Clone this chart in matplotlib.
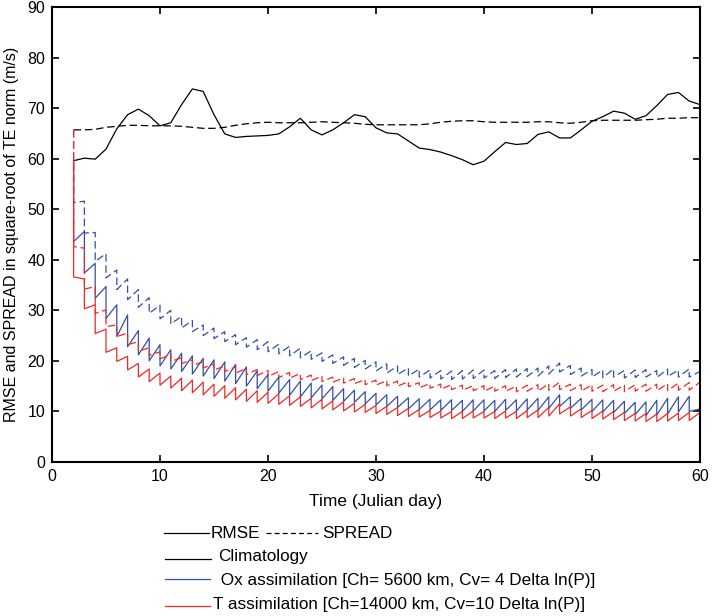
import matplotlib
matplotlib.use("Agg")
import matplotlib.pyplot as plt
from matplotlib.lines import Line2D

plt.rcParams['font.family'] = ['Liberation Sans', 'DejaVu Sans']

# analysis days (start of each forecast cycle) and forecast end days
analysis_days = list(range(2, 60))
forecast_days = list(range(3, 61))
clim_days = list(range(2, 61))

# climatology (free run) RMSE and SPREAD, one value per day
clim_rmse = [59.6, 60.1, 59.9, 61.9, 65.9, 68.7, 69.8, 68.5, 66.5,
             67.1, 70.7, 73.8, 73.3, 68.7, 64.9, 64.2, 64.4, 64.5, 64.6,
             64.9, 66.3, 68.0, 65.7, 64.7, 65.7, 67.1, 68.7, 68.3, 66.1,
             65.1, 64.9, 63.5, 62.1, 61.8, 61.3, 60.6, 59.8, 58.8, 59.5,
             61.4, 63.2, 62.8, 63.0, 64.8, 65.3, 64.1, 64.1, 65.7, 67.4,
             68.3, 69.4, 69.0, 67.8, 68.5, 70.5, 72.7, 73.1, 71.4, 70.7]
clim_spread = [65.7, 65.7, 65.8, 66.2, 66.4, 66.6, 66.6, 66.5, 66.5,
               66.5, 66.4, 66.2, 66.0, 66.0, 66.2, 66.6, 66.9, 67.1, 67.2,
               67.1, 67.1, 67.1, 67.2, 67.3, 67.2, 67.1, 67.0, 66.8, 66.7,
               66.7, 66.7, 66.7, 66.7, 66.9, 67.2, 67.4, 67.5, 67.5, 67.3,
               67.2, 67.2, 67.2, 67.2, 67.3, 67.3, 67.1, 67.0, 67.2, 67.5,
               67.6, 67.6, 67.6, 67.6, 67.7, 67.8, 68.0, 68.0, 68.1, 68.1]

# Ox assimilation: values right after analysis (days 2..59) and at end of forecast (days 3..60)
ox_rmse_ana = [43.6, 37.4, 32.4, 28.4, 24.8, 22.8, 21.2, 20.0, 19.0,
               18.4, 17.9, 17.4, 17.0, 16.5, 16.0, 15.5, 15.0, 14.5, 14.0,
               13.6, 13.2, 12.9, 12.7, 12.5, 12.2, 12.0, 11.8, 11.5, 11.3,
               11.0, 10.8, 10.5, 10.4, 10.3, 10.2, 10.2, 10.0, 10.1, 10.1,
               10.0, 10.2, 10.1, 10.3, 10.2, 10.6, 11.0, 10.6, 10.3, 10.0,
               9.9, 9.8, 9.6, 9.4, 9.2, 9.3, 9.5, 9.9, 10.0]
ox_rmse_fc = [45.6, 39.3, 34.7, 31.1, 29.1, 26.0, 24.5, 23.2,
              22.2, 21.5, 21.0, 20.5, 20.2, 19.8, 19.3, 18.8, 18.0, 17.3,
              16.8, 16.3, 16.0, 15.6, 15.2, 14.9, 14.5, 14.2, 13.9, 13.6,
              13.3, 13.0, 12.7, 12.5, 12.4, 12.3, 12.3, 12.2, 12.3, 12.3,
              12.2, 12.4, 12.3, 12.5, 12.6, 12.9, 13.3, 12.9, 12.6, 12.4,
              12.3, 12.2, 12.0, 11.8, 11.9, 12.2, 12.6, 12.9, 13.0, 10.5]
ox_spread_ana = [51.3, 45.3, 39.7, 36.4, 34.1, 32.1, 30.6, 29.4, 28.3,
                 27.3, 26.5, 25.8, 25.0, 24.4, 23.8, 23.2, 22.7, 22.2, 21.8,
                 21.4, 21.0, 20.6, 20.3, 19.9, 19.5, 19.1, 18.7, 18.4, 18.0,
                 17.6, 17.3, 17.0, 16.8, 16.6, 16.4, 16.3, 16.4, 16.5, 16.6,
                 16.5, 16.7, 16.8, 16.9, 17.0, 17.4, 17.8, 17.3, 17.0, 16.8,
                 16.7, 16.8, 16.6, 16.7, 16.8, 16.7, 16.9, 16.8, 16.8]
ox_spread_fc = [51.6, 45.4, 41.2, 38.0, 36.2, 34.1, 32.5, 31.0,
                30.0, 28.8, 28.0, 27.1, 26.5, 25.8, 25.2, 24.6, 24.2, 23.8,
                23.3, 22.9, 22.5, 22.0, 21.6, 21.2, 20.8, 20.5, 20.1, 19.8,
                19.4, 19.0, 18.6, 18.4, 18.2, 18.1, 18.0, 18.1, 18.2, 18.2,
                18.1, 18.3, 18.4, 18.5, 18.6, 19.0, 19.6, 19.1, 18.6, 18.3,
                18.2, 18.4, 18.1, 18.2, 18.3, 18.1, 18.4, 18.2, 18.4, 17.9]

# T assimilation
t_rmse_ana = [36.6, 30.3, 25.4, 21.7, 19.9, 18.2, 16.8, 15.9, 15.2,
              14.6, 14.1, 13.7, 13.3, 13.0, 12.6, 12.3, 12.0, 11.8, 11.6,
              11.4, 11.2, 11.0, 10.7, 10.5, 10.3, 10.1, 9.9, 9.8, 9.6,
              9.4, 9.2, 9.0, 8.9, 8.8, 8.7, 8.6, 8.6, 8.7, 8.7,
              8.6, 8.7, 8.6, 8.8, 8.8, 9.1, 9.5, 9.1, 8.8, 8.6,
              8.5, 8.4, 8.2, 8.1, 8.0, 8.0, 8.1, 8.2, 8.2]
t_rmse_fc = [36.2, 31.1, 26.3, 22.6, 20.9, 19.5, 18.4, 17.6,
             17.0, 16.6, 16.2, 15.8, 15.4, 15.1, 14.7, 14.4, 14.1, 13.8,
             13.5, 13.1, 12.9, 12.6, 12.4, 12.1, 11.9, 11.6, 11.4, 11.2,
             11.0, 10.8, 10.6, 10.4, 10.2, 10.1, 10.0, 10.0, 10.1, 10.0,
             10.0, 10.1, 10.0, 10.2, 10.3, 10.8, 11.5, 10.9, 10.5, 10.2,
             10.1, 10.0, 9.8, 9.6, 9.6, 9.5, 9.6, 9.7, 9.8, 9.8]
t_spread_ana = [42.6, 34.2, 29.4, 26.8, 24.8, 23.2, 21.9, 21.1, 20.4,
                19.9, 19.5, 19.1, 18.6, 18.2, 17.9, 17.6, 17.3, 17.1, 16.9,
                16.7, 16.6, 16.3, 16.1, 15.9, 15.8, 15.6, 15.5, 15.3, 15.2,
                15.1, 15.0, 14.9, 14.7, 14.6, 14.4, 14.3, 14.2, 14.1, 14.0,
                14.0, 14.0, 13.9, 14.0, 14.0, 14.2, 14.3, 14.1, 14.0, 14.0,
                13.9, 14.0, 13.9, 14.0, 14.0, 14.1, 14.1, 14.2, 14.2]
t_spread_fc = [42.3, 34.7, 30.1, 27.1, 25.5, 23.8, 22.6, 21.8,
               21.2, 20.6, 20.2, 19.8, 19.4, 19.0, 18.8, 18.5, 18.3, 18.1,
               17.9, 17.7, 17.5, 17.2, 17.0, 16.8, 16.6, 16.5, 16.3, 16.2,
               16.1, 16.0, 15.9, 15.7, 15.5, 15.4, 15.3, 15.2, 15.1, 15.1,
               15.0, 15.1, 15.0, 15.2, 15.3, 15.5, 15.8, 15.4, 15.3, 15.3,
               15.2, 15.3, 15.2, 15.3, 15.4, 15.4, 15.5, 15.6, 15.7, 15.8]

BLUE = '#3350a8'
RED = '#f02828'
LW = 0.9
DASH = (6, 3)


def sawtooth(start, ana, fc):
    # start value, then drop to analysis, grow to forecast, drop again ...
    xs = [analysis_days[0]]
    ys = [start]
    for i in range(len(ana)):
        xs += [analysis_days[i], forecast_days[i]]
        ys += [ana[i], fc[i]]
    return xs, ys


fig = plt.figure(figsize=(7.12, 6.16), dpi=100)
ax = fig.add_axes([52 / 712, 154 / 616, 648 / 712, 455 / 616])

ax.plot(clim_days, clim_rmse, color='black', lw=LW)
ax.plot(clim_days, clim_spread, color='black', lw=LW, dashes=DASH)

x, y = sawtooth(clim_rmse[0], ox_rmse_ana, ox_rmse_fc)
ax.plot(x, y, color=BLUE, lw=LW)
x, y = sawtooth(clim_spread[0], ox_spread_ana, ox_spread_fc)
ax.plot(x, y, color=BLUE, lw=LW, dashes=DASH)

x, y = sawtooth(clim_rmse[0], t_rmse_ana, t_rmse_fc)
ax.plot(x, y, color=RED, lw=LW)
x, y = sawtooth(clim_spread[0], t_spread_ana, t_spread_fc)
ax.plot(x, y, color=RED, lw=LW, dashes=DASH)

ax.set_xlim(0, 60)
ax.set_ylim(0, 90)
ax.set_xticks(range(0, 61, 10))
ax.set_yticks(range(0, 91, 10))
ax.tick_params(direction='in', top=True, right=True, length=5, width=1.2,
               labelsize=11.5, pad=5)
for sp in ax.spines.values():
    sp.set_linewidth(1.5)
ax.set_xlabel('Time (Julian day)', fontsize=12.5, labelpad=7)
ax.set_ylabel('RMSE and SPREAD in square-root of TE norm (m/s)', fontsize=11.5)
ax.yaxis.set_label_coords((19 - 52) / 648, 0.5)

# legend drawn by hand below the axes (figure pixel coords)
W, H = 712.0, 616.0


def fline(x0, x1, yp, **kw):
    fig.add_artist(Line2D([x0 / W, x1 / W], [1 - yp / H, 1 - yp / H],
                          transform=fig.transFigure, lw=LW, **kw))


def ftext(xp, yp, s):
    fig.text(xp / W, 1 - yp / H, s, fontsize=12.3, va='center', ha='left')


fline(164, 209, 533, color='black')
ftext(211, 533, 'RMSE')
fline(266, 318, 533, color='black', dashes=(4, 2.5))
ftext(322, 533, 'SPREAD')
fline(165, 211, 559, color='black')
ftext(218, 557, 'Climatology')
fline(165, 210, 579, color=BLUE)
ftext(216, 580, ' Ox assimilation [Ch= 5600 km, Cv= 4 Delta ln(P)]')
fline(165, 210, 606, color=RED)
ftext(213, 605, 'T assimilation [Ch=14000 km, Cv=10 Delta ln(P)]')

fig.savefig('out.png', dpi=100)
